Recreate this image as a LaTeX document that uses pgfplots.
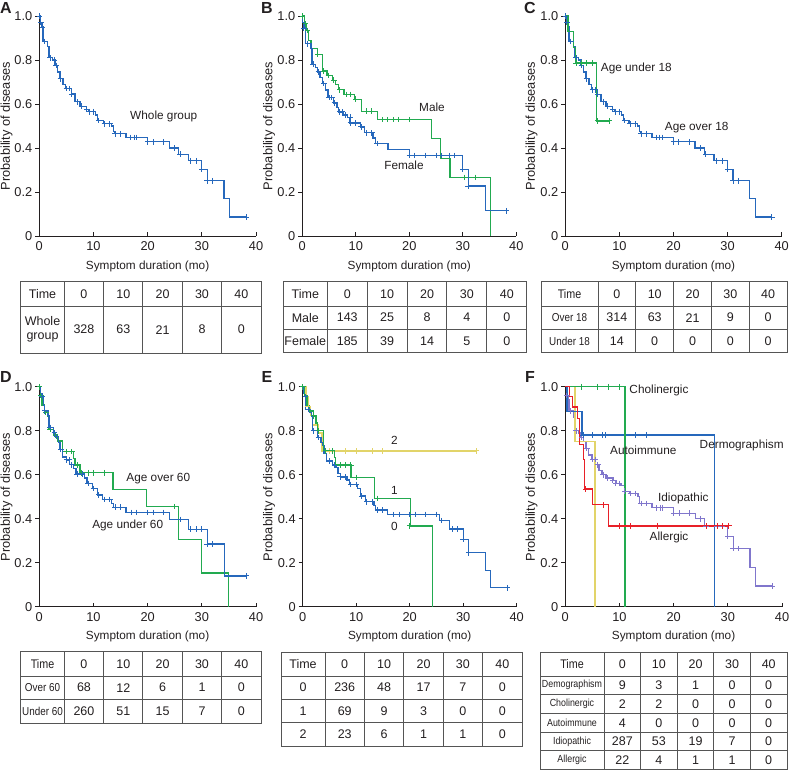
\documentclass[border=0pt]{standalone}
\usepackage{pgfplots}
\pgfplotsset{compat=1.18}
\usepackage{fontspec}
\setmainfont{Liberation Sans}
\newfontfamily\narrow[FakeStretch=0.86]{Liberation Sans}

\definecolor{kmblue}{RGB}{38,104,188}
\definecolor{kmgreen}{RGB}{34,170,80}
\definecolor{kmyellow}{RGB}{226,212,105}
\definecolor{kmred}{RGB}{232,32,40}
\definecolor{kmpurple}{RGB}{128,118,204}
\definecolor{txt}{RGB}{35,31,32}
\definecolor{grid}{RGB}{85,85,85}

\newcommand\ft{\fontsize{11.8}{13}\selectfont}
\newcommand\fnum{\fontsize{12.5}{14}\selectfont}
\newcommand\fn{\narrow\fontsize{11.5}{12}\selectfont}
\newcommand\fns{\narrow\fontsize{10.3}{11}\selectfont}

\pgfplotsset{
  kmaxis/.style={
    scale only axis, height=220pt, anchor=south west,
    xmin=0, xmax=40, ymin=0, ymax=1,
    axis x line*=bottom, axis y line*=left,
    axis line style={draw=txt, line width=0.9pt, -},
    every outer x axis line/.append style={-},
    every outer y axis line/.append style={-},
    xtick={0,10,20,30,40}, xticklabels={0,10,20,30,40},
    ytick={0,0.2,0.4,0.6,0.8,1}, yticklabels={0,0.2,0.4,0.6,0.8,1.0},
    tick align=inside, major tick length=4pt,
    tick style={draw=txt, line width=0.9pt},
    y tick style={xshift=-4pt},
    tick label style={font=\fontsize{12.8}{14}\selectfont, text=txt},
    x tick label style={yshift=-2pt},
    y tick label style={xshift=-3.5pt},
    clip=false,
  },
  kmline/.style={const plot, line width=1.3pt, mark=none},
  kmcens/.style={only marks, mark=+, mark size=2.8pt, mark options={line width=1pt}},
}

% #1 left, #2 end of first column, #3 right, #4 top, #5 font of first column,
% #6 rows: bottom/label/v0/v1/v2/v3/v4
\newcommand\kmtable[6]{%
  \pgfmathsetmacro\cw{(#3-#2)/5}
  \xdef\prevy{#4}
  \foreach \yb/\lab/\va/\vb/\vc/\vd/\ve in {#6}{
    \draw[grid, line width=1pt] (#1,-\yb) -- (#3,-\yb);
    \pgfmathsetmacro\ym{-(\prevy+\yb)/2}
    \node[font=#5, text=txt, align=center, inner sep=0pt] at ({(#1+#2)/2},\ym) {\lab};
    \node[font=\fnum, text=txt] at ({#2+0.5*\cw},\ym) {\va};
    \node[font=\fnum, text=txt] at ({#2+1.5*\cw},\ym) {\vb};
    \node[font=\fnum, text=txt] at ({#2+2.5*\cw},\ym) {\vc};
    \node[font=\fnum, text=txt] at ({#2+3.5*\cw},\ym) {\vd};
    \node[font=\fnum, text=txt] at ({#2+4.5*\cw},\ym) {\ve};
    \xdef\prevy{\yb}
  }
  \draw[grid, line width=1pt] (#1,-#4) rectangle (#3,-\prevy);
  \foreach \k in {0,...,4}{
    \draw[grid, line width=1pt] ({#2+\k*\cw},-#4) -- ({#2+\k*\cw},-\prevy);
  }
}

\begin{document}
\begin{tikzpicture}
\useasboundingbox (0pt,0pt) rectangle (789pt,-771pt);

% ---------- A ----------
\begin{axis}[kmaxis, width=216.7pt, at={(39.3pt,-236pt)}]
\addplot[kmline, kmblue] coordinates {(0,1) (0.2,0.97) (0.5,0.95) (0.7,0.885) (1.5,0.86) (1.8,0.81) (2.5,0.80) (2.9,0.775) (3.4,0.745) (3.8,0.715) (4.4,0.69) (4.9,0.67) (5.9,0.645) (6.6,0.61) (7.5,0.59) (8.7,0.575) (9.2,0.565) (10.4,0.55) (10.8,0.525) (11.8,0.51) (13.3,0.5) (13.7,0.475) (14,0.465) (16,0.448) (20,0.428) (24,0.40) (25.7,0.372) (27.5,0.342) (30,0.303) (31,0.251) (34.1,0.17) (35.1,0.086) (38.2,0.086)};
\addplot[kmcens, kmblue] coordinates {(0,1) (0.3,0.97) (0.6,0.95) (1,0.885) (2,0.81) (2.8,0.8) (3.1,0.775) (3.9,0.715) (5,0.67) (5.5,0.67) (6,0.645) (7,0.61) (7.8,0.59) (8.8,0.575) (9.3,0.565) (10,0.565) (11,0.525) (12,0.51) (13,0.51) (14,0.465) (15,0.465) (16.8,0.448) (17.5,0.448) (18,0.448) (20,0.428) (21,0.428) (23,0.428) (25,0.40) (26,0.372) (28,0.342) (29,0.342) (30,0.303) (31,0.251) (32,0.251) (38.2,0.086)};
\end{axis}

% ---------- B ----------
\begin{axis}[kmaxis, width=214pt, at={(302.3pt,-236pt)}]
\addplot[kmline, kmgreen] coordinates {(0,1) (0.4,0.965) (0.8,0.935) (1.1,0.89) (1.6,0.852) (2.8,0.825) (3.8,0.75) (4.6,0.73) (5.7,0.708) (6.2,0.69) (6.7,0.665) (7.8,0.644) (9.7,0.622) (11,0.567) (14,0.529) (24.2,0.443) (25.8,0.352) (27.6,0.266) (35.2,0)};
\addplot[kmcens, kmgreen] coordinates {(0,1) (0.6,0.965) (1,0.935) (2.9,0.825) (3.9,0.75) (4.9,0.73) (5.9,0.708) (7,0.665) (8.2,0.644) (9,0.644) (10,0.622) (12,0.567) (13,0.567) (15,0.529) (16,0.529) (17,0.529) (18,0.529) (20,0.529) (30.4,0.266) (32.4,0.266)};
\addplot[kmline, kmblue] coordinates {(0,1) (0.1,0.97) (0.3,0.945) (0.6,0.874) (1.6,0.852) (1.8,0.781) (2.5,0.765) (2.8,0.746) (3.3,0.72) (3.8,0.693) (4.4,0.663) (4.8,0.629) (5.8,0.605) (6.5,0.585) (6.8,0.564) (7.6,0.55) (8.4,0.54) (8.8,0.514) (10.9,0.496) (11.6,0.469) (13.2,0.445) (13.7,0.42) (16,0.393) (20,0.366) (30,0.303) (31,0.227) (34.2,0.115) (38.2,0.115)};
\addplot[kmcens, kmblue] coordinates {(0.3,0.945) (1,0.874) (2,0.781) (3,0.746) (4,0.693) (5,0.629) (5.5,0.629) (6,0.605) (7,0.564) (7.5,0.564) (8,0.55) (9,0.514) (9,0.54) (10,0.514) (11,0.496) (12,0.469) (13,0.469) (14,0.42) (20,0.366) (21,0.366) (23,0.366) (25,0.366) (26,0.366) (27.5,0.366) (28.5,0.366) (30,0.303) (31,0.227) (38.2,0.115)};
\end{axis}

% ---------- C ----------
\begin{axis}[kmaxis, width=216.4pt, at={(565.3pt,-236pt)}]
\addplot[kmline, kmblue] coordinates {(0,1) (0.2,0.97) (0.5,0.95) (0.7,0.885) (1.5,0.86) (1.8,0.81) (2.5,0.80) (2.9,0.775) (3.4,0.745) (3.8,0.715) (4.4,0.69) (4.9,0.665) (5.9,0.643) (6.6,0.61) (7.5,0.59) (8.7,0.575) (9.2,0.565) (10.4,0.55) (10.8,0.525) (11.8,0.51) (13.3,0.5) (13.7,0.475) (14,0.465) (16,0.448) (20,0.428) (24,0.40) (25.7,0.372) (27.5,0.342) (30,0.303) (31,0.251) (34.1,0.17) (35.1,0.086) (38.2,0.086)};
\addplot[kmcens, kmblue] coordinates {(0,1) (0.3,0.97) (1,0.885) (2,0.81) (3,0.775) (3.9,0.715) (5,0.665) (5.5,0.665) (6,0.643) (7,0.61) (7.8,0.59) (8.8,0.575) (9.3,0.565) (10,0.565) (11,0.525) (12,0.51) (13,0.51) (14,0.465) (15,0.465) (16.8,0.448) (17.5,0.448) (18,0.448) (20,0.428) (21,0.428) (23,0.428) (25,0.40) (26,0.372) (28,0.342) (29,0.342) (30,0.303) (31,0.251) (32,0.251) (38.2,0.086)};
\addplot[kmline, kmgreen] coordinates {(0,1) (0.5,0.93) (1.5,0.857) (1.9,0.786) (5.8,0.523) (8.1,0.523)};
\addplot[kmcens, kmgreen] coordinates {(2,0.786) (3,0.786) (4,0.786) (5,0.786) (6,0.523) (8.1,0.523)};
\end{axis}

% ---------- D ----------
\begin{axis}[kmaxis, width=216.7pt, at={(39.3pt,-606.7pt)}]
\addplot[kmline, kmgreen] coordinates {(0,1) (0.2,0.96) (0.5,0.917) (1,0.882) (1.5,0.865) (1.8,0.806) (2.6,0.78) (3.3,0.753) (4.3,0.705) (6.3,0.675) (6.6,0.644) (7.5,0.609) (13.6,0.533) (19.8,0.455) (25.7,0.306) (30,0.153) (34.9,0)};
\addplot[kmcens, kmgreen] coordinates {(0,1) (0.3,0.96) (1.2,0.882) (2,0.806) (3,0.78) (5,0.705) (6,0.705) (7,0.644) (7.8,0.609) (9,0.609) (10,0.609) (12,0.609) (25,0.455)};
\addplot[kmline, kmblue] coordinates {(0,1) (0.2,0.97) (0.5,0.955) (0.8,0.915) (1,0.89) (1.6,0.868) (1.8,0.815) (2.6,0.79) (3,0.773) (3.5,0.745) (3.8,0.715) (4.3,0.68) (5,0.667) (5.6,0.645) (6.3,0.629) (6.8,0.603) (8.4,0.585) (8.8,0.56) (9.8,0.538) (10.7,0.508) (11.7,0.488) (13.3,0.47) (13.7,0.452) (16,0.429) (24,0.397) (27.6,0.352) (31,0.285) (34.2,0.14) (38.2,0.14)};
\addplot[kmcens, kmblue] coordinates {(0.5,0.955) (1,0.89) (2,0.815) (2.8,0.79) (3.2,0.773) (4,0.715) (5,0.667) (5.5,0.667) (6,0.645) (7,0.603) (8,0.603) (9,0.56) (10,0.538) (11,0.508) (12,0.488) (13,0.488) (14,0.452) (15,0.452) (17,0.429) (18,0.429) (20,0.429) (21,0.429) (23,0.429) (26,0.397) (28,0.352) (29,0.352) (30,0.352) (31,0.285) (32,0.285) (38.2,0.14)};
\end{axis}

% ---------- E ----------
\begin{axis}[kmaxis, width=214pt, at={(302.7pt,-606.7pt)}]
\addplot[kmline, kmyellow] coordinates {(0,1) (0.6,0.955) (1,0.91) (1.5,0.87) (1.8,0.826) (3,0.79) (3.6,0.708) (32.4,0.708)};
\addplot[kmcens, kmyellow] coordinates {(1,0.91) (5,0.708) (8,0.708) (10,0.708) (13,0.708) (15,0.708) (32.4,0.708)};
\addplot[kmline, kmblue] coordinates {(0,1) (0.1,0.97) (0.3,0.955) (0.5,0.897) (1.3,0.885) (1.6,0.865) (1.8,0.8) (2.8,0.77) (3.4,0.745) (3.8,0.732) (4,0.697) (4.5,0.662) (5.6,0.644) (6.2,0.632) (6.6,0.606) (7,0.59) (8.3,0.576) (8.8,0.556) (10.2,0.538) (10.8,0.503) (11.7,0.477) (13.3,0.46) (13.6,0.44) (15.8,0.42) (25.6,0.391) (27.5,0.353) (30,0.306) (31,0.245) (34.2,0.164) (35.1,0.086) (38.2,0.086)};
\addplot[kmcens, kmblue] coordinates {(0.5,0.955) (1,0.897) (2,0.8) (3,0.77) (5,0.662) (6,0.644) (7,0.59) (8,0.59) (9,0.556) (10,0.556) (11,0.503) (12,0.477) (13,0.477) (14,0.44) (15,0.44) (17,0.42) (18,0.42) (20,0.42) (21,0.42) (23,0.42) (25,0.42) (26,0.391) (28,0.353) (29,0.353) (30,0.306) (31,0.245) (38.2,0.086)};
\addplot[kmline, kmgreen] coordinates {(0,1) (0.4,0.96) (0.8,0.915) (1.3,0.89) (2,0.867) (2.5,0.835) (2.8,0.8) (3.9,0.709) (6,0.679) (6.1,0.644) (9,0.588) (13.4,0.492) (20.2,0.367) (24.3,0)};
\addplot[kmcens, kmgreen] coordinates {(0,1) (2,0.867) (3,0.8) (4.3,0.709) (5.5,0.709) (7,0.644) (8,0.644) (9,0.644) (10,0.588) (14,0.492) (20,0.367)};
\end{axis}

% ---------- F ----------
\begin{axis}[kmaxis, width=216.7pt, at={(565.3pt,-606.7pt)}]
\addplot[kmline, kmpurple] coordinates {(0,1) (0.2,0.96) (0.5,0.94) (0.7,0.89) (1.5,0.86) (1.8,0.8) (2.5,0.79) (2.9,0.77) (3.4,0.75) (3.8,0.72) (4.3,0.69) (4.9,0.67) (5.6,0.645) (6.2,0.62) (6.8,0.6) (7.5,0.585) (8.8,0.575) (9.4,0.56) (10.3,0.55) (10.9,0.525) (11.9,0.515) (13.4,0.5) (13.7,0.47) (16,0.45) (20,0.425) (24,0.4) (25.7,0.365) (30,0.32) (31,0.264) (34.1,0.178) (35.1,0.094) (38.2,0.094)};
\addplot[kmcens, kmpurple] coordinates {(0.3,0.96) (1,0.89) (2,0.8) (3,0.77) (4,0.72) (5,0.67) (5.5,0.67) (6,0.645) (7,0.6) (7.8,0.585) (8.8,0.575) (9.3,0.56) (10,0.56) (11,0.525) (12,0.515) (13,0.515) (14,0.47) (15,0.47) (16.8,0.45) (17.5,0.45) (18,0.45) (20,0.425) (21,0.425) (23,0.425) (25,0.4) (26,0.365) (28,0.365) (29,0.365) (30,0.32) (31,0.264) (32,0.264) (38.2,0.094)};
\addplot[kmline, kmyellow] coordinates {(0,1) (1.8,0.75) (5.5,0)};
\addplot[kmline, kmblue] coordinates {(0,1) (0.3,0.887) (3.1,0.78) (27.6,0)};
\addplot[kmcens, kmblue] coordinates {(3.3,0.78) (5,0.78) (6.9,0.78) (7.4,0.78) (13,0.78) (15,0.78)};
\addplot[kmline, kmgreen] coordinates {(0,1) (11,0)};
\addplot[kmcens, kmgreen] coordinates {(3,1) (6,1) (8,1) (10,1)};
\addplot[kmline, kmred] coordinates {(0,1) (0.75,0.955) (1.3,0.908) (2.3,0.857) (2.6,0.736) (3.3,0.67) (3.6,0.535) (5,0.463) (8,0.367) (30.2,0.367)};
\addplot[kmcens, kmred] coordinates {(3.8,0.535) (7,0.463) (10,0.367) (12,0.367) (17,0.367) (26,0.367) (28,0.367) (29,0.367) (30.2,0.367)};
\end{axis}

\begin{scope}[x=1pt, y=1pt, text=txt]
% panel letters
\foreach \lx/\ly/\l in {6/7.5/A, 267/7.5/B, 530/7.5/C, 6/377/D, 267/377/E, 530/377/F}
  \node[font=\fontsize{16}{18}\selectfont\bfseries, inner sep=0pt] at (\lx,-\ly) {\l};
% y labels
\foreach \lx/\ly in {6.5/126, 269/126, 531.5/126, 6.5/497, 269/497, 531.5/497}
  \node[font=\fontsize{12.8}{14}\selectfont, rotate=90, inner sep=0pt] at (\lx,-\ly) {Probability of diseases};
% x labels
\foreach \lx/\ly in {147.6/266.7, 409.3/266.7, 673.5/266.7, 147.6/636.7, 409.7/636.7, 673.6/636.7}
  \node[font=\ft, inner sep=0pt] at (\lx,-\ly) {Symptom duration (mo)};
% curve labels
\node[font=\ft] at (163.7,-116.7) {Whole group};
\node[font=\ft] at (432,-107.3) {Male};
\node[font=\ft] at (404,-165) {Female};
\node[font=\ft] at (636.3,-68.3) {Age under 18};
\node[font=\ft] at (696.7,-127.7) {Age over 18};
\node[font=\ft] at (158.3,-478.3) {Age over 60};
\node[font=\ft] at (127.7,-525) {Age under 60};
\node[font=\ft] at (394.3,-440) {2};
\node[font=\ft] at (394.3,-490) {1};
\node[font=\ft] at (394.3,-526.7) {0};
\node[font=\ft] at (659,-390) {Cholinergic};
\node[font=\ft] at (741.7,-445) {Dermographism};
\node[font=\ft] at (643.3,-450) {Autoimmune};
\node[font=\ft] at (683.3,-498.3) {Idiopathic};
\node[font=\ft] at (669,-537.3) {Allergic};

% risk tables
\kmtable{20.7}{64.3}{261}{281.7}{\fnum}{306/{Time}/0/10/20/30/40, 353.3/{Whole\\group}/328/63/21/8/0}
\kmtable{283.3}{327.3}{526.7}{281.7}{\fnum}{306/Time/0/10/20/30/40, 329.3/Male/143/25/8/4/0, 352.7/Female/185/39/14/5/0}
\kmtable{541}{598}{787}{281.7}{\fn}{306/{\fnum Time}/0/10/20/30/40, 329.3/Over 18/314/63/21/9/0, 352.7/Under 18/14/0/0/0/0}
\kmtable{20.7}{64.3}{261}{651.7}{\fn}{676/{\fnum Time}/0/10/20/30/40, 699.3/Over 60/68/12/6/1/0, 723.3/Under 60/260/51/15/7/0}
\kmtable{281}{325}{522}{652.5}{\fnum}{676/Time/0/10/20/30/40, 699.3/0/236/48/17/7/0, 722.6/1/69/9/3/0/0, 746/2/23/6/1/1/0}
\kmtable{540}{604}{787}{652.7}{\fns}{676/{\fnum Time}/0/10/20/30/40, 694.3/Demographism/9/3/1/0/0, 713.3/Cholinergic/2/2/0/0/0, 732.3/Autoimmune/4/0/0/0/0, 750.7/Idiopathic/287/53/19/7/0, 769.5/Allergic/22/4/1/1/0}
\end{scope}
\end{tikzpicture}
\end{document}
